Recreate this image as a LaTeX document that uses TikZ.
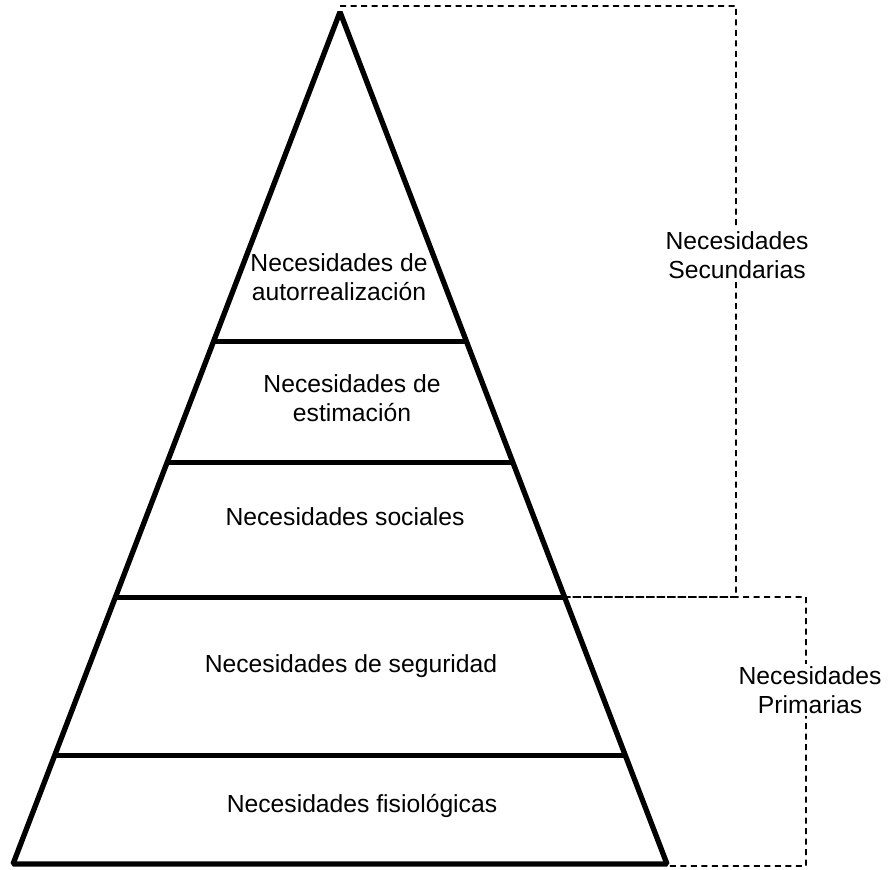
\documentclass[tikz,border=0pt]{standalone}
\usepackage{fontspec}
\setmainfont{Liberation Sans}
\begin{document}
\begin{tikzpicture}[x=1pt,y=-1pt,
  pyr/.style={line width=5.3pt,line join=bevel},
  lvl/.style={line width=5pt},
  brk/.style={line width=1.6pt,dash pattern=on 6pt off 4.5pt},
  lbl/.style={font=\fontsize{24.7}{28.5}\selectfont,align=center,inner sep=1pt},
  side/.style={lbl,fill=white,inner sep=3pt}]
\useasboundingbox (0,0) rectangle (890,869);
% pyramid corners
\coordinate (apex) at (340,12);
\coordinate (bl) at (13,864);
\coordinate (br) at (667,864);
% level lines
\foreach \n/\yy in {a/342,b/462,c/597,d/755}{
  \path (apex) -- (bl) coordinate[pos={(\yy-12)/852}] (\n L);
  \path (apex) -- (br) coordinate[pos={(\yy-12)/852}] (\n R);
  \draw[lvl] (\n L) -- (\n R);
}
\draw[pyr] (apex) -- (bl) -- (br) -- cycle;
% labels
\node[lbl] (t1) at (339,277) {Necesidades de\\autorrealización};
\node[lbl] (t2) at (352,398) {Necesidades de\\estimación};
\node[lbl] (t3) at (345,517) {Necesidades sociales};
\node[lbl] (t4) at (351,666) {Necesidades de seguridad};
\node[lbl] (t5) at (362,806) {Necesidades fisiológicas};
% brackets
\coordinate (s0) at (340,6);
\coordinate (s1) at (736,6);
\coordinate (s2) at (736,597);
\coordinate (p1) at (806,597);
\coordinate (p2) at (806,866);
\coordinate (p3) at (669,866);
\draw[brk] (s0) -- (s1) -- (s2) -- (cR);
\draw[brk] (cR) -- (p1) -- (p2) -- (p3);
\node[side] (sec) at (737,255) {Necesidades\\Secundarias};
\node[side] (pri) at (810,690) {Necesidades\\Primarias};
\end{tikzpicture}
\end{document}
